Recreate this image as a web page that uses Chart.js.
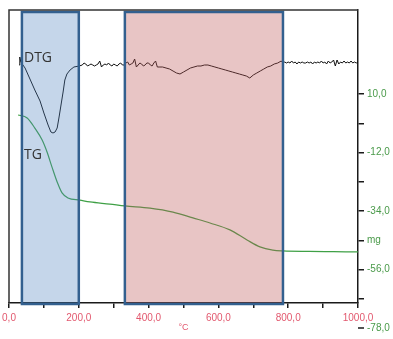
<!DOCTYPE html>
<html>
<head>
<meta charset="utf-8">
<script src="https://cdn.jsdelivr.net/npm/chart.js@4/dist/chart.umd.min.js"></script>
<style>
  html, body { margin: 0; padding: 0; background: #fff; }
  #wrap { width: 393px; height: 339px; position: relative; }
</style>
</head>
<body>
<div id="wrap"><canvas id="c" width="393" height="339"></canvas></div>
<script>
// ---- data ----
// TG: temperature (°C) and mass change (mg)
const tgTemp = [26, 52, 74, 95, 109, 123, 138, 152, 169, 203, 232, 289, 332, 404, 470, 527, 576, 633, 682, 719, 756, 785, 860, 930, 1000];
const tgMass = [2.1, 1.0, -2.8, -7.3, -11.8, -17.4, -23.1, -27.2, -29.1, -29.9, -30.6, -31.4, -32.1, -32.9, -34.4, -36.6, -38.5, -41.1, -44.9, -47.5, -48.7, -49.0, -49.2, -49.3, -49.4];

// DTG: temperature (°C) and derivative signal (arbitrary units)
const dtgTemp = [29, 31, 34, 40, 46, 60, 74, 89, 100, 112, 120, 126, 132, 138, 143, 149, 155, 160, 166, 175, 186, 201,
  210, 215, 220, 225, 230, 235, 240, 245, 250, 255, 260, 265, 270, 275, 280, 285, 290, 295, 300, 305, 310, 315, 320, 325, 330,
  335, 340, 345, 350, 355, 360, 365, 370, 375, 380, 385, 390, 395, 400,
  405, 410, 415, 420, 425, 430, 440, 450, 460, 470, 480, 490, 500, 510, 520, 530, 540, 550, 560, 570, 580, 590, 600,
  610, 620, 630, 640, 650, 660, 670, 680, 690, 700, 710, 720, 730, 740, 750, 760, 770, 780, 785, 790, 795, 800,
  805, 810, 815, 820, 825, 830, 835, 840, 845, 850, 855, 860, 865, 870, 875, 880, 885, 890, 895, 900,
  905, 910, 915, 920, 925, 930, 935, 940, 945, 950, 955, 960, 965, 970, 975, 980, 985, 990, 995, 1000];
const dtgValue = [-0.1, 0.7, 0.2, -0.1, -0.4, -1.5, -2.6, -3.7, -4.9, -6.1, -6.8, -6.9, -6.8, -6.4, -5.4, -4.1, -2.8, -1.6, -1.0, -0.6, -0.3, -0.2,
  -0.1, 0.1, 0.0, -0.2, -0.1, 0.0, -0.1, -0.2, -0.1, 0.0, 0.3, -0.3, -0.1, 0.0, -0.1, 0.1, -0.1, -0.2, 0.0, -0.1, -0.2, 0.0, 0.1, -0.1, -0.1,
  0.1, 0.2, -0.1, 0.0, 0.1, 0.5, -0.3, -0.1, 0.1, 0.0, -0.2, -0.1, 0.1, 0.1,
  -0.1, -0.2, 0.1, 0.3, -0.3, -0.3, -0.3, -0.4, -0.5, -0.7, -0.9, -1.0, -0.8, -0.6, -0.4, -0.3, -0.2, -0.2, -0.1, -0.1, -0.2, -0.3, -0.4,
  -0.5, -0.6, -0.7, -0.8, -0.9, -1.0, -1.1, -1.2, -1.4, -1.1, -0.9, -0.7, -0.5, -0.3, -0.2, 0.0, 0.1, 0.3, 0.1, 0.2, 0.1, 0.2,
  0.1, 0.3, 0.1, 0.2, 0.0, 0.2, 0.1, 0.2, 0.1, 0.1, 0.2, 0.1, 0.2, 0.0, 0.2, 0.1, 0.2, 0.1, 0.3, 0.1,
  0.2, 0.0, 0.3, 0.1, 0.2, 0.4, -0.2, 0.4, 0.0, 0.2, 0.1, 0.3, 0.1, 0.2, 0.1, 0.3, 0.1, 0.2, 0.1, 0.2];

// highlighted temperature ranges (°C)
const regionStart = [37, 332];
const regionEnd = [200, 785];

// axis ticks
const xTicks = [0, 100, 200, 300, 400, 500, 600, 700, 800, 900, 1000];
const xLabelled = [0, 200, 400, 600, 800, 1000];
const massTicks = [10, -1, -12, -23, -34, -45, -56, -67];
const massLabelled = [10, -12, -34, -56];
const massUnitTick = -45;
const massExtraTick = -78;

const fmt = v => v.toFixed(1).replace('.', ',');
const xy = (xs, ys) => xs.map((x, i) => ({ x, y: ys[i] }));

const RED = '#e2586e';
const GREEN = '#4a9a4a';
const AXIS = '#1a1a1a';

const overlayPlugin = {
  id: 'overlay',
  afterDatasetsDraw(chart) {
    const ctx = chart.ctx, xs = chart.scales.x, a = chart.chartArea;
    const fills = ['rgba(80,130,190,0.33)', 'rgba(190,90,90,0.35)'];
    ctx.save();
    regionStart.forEach((s, i) => {
      const x0 = xs.getPixelForValue(s), x1 = xs.getPixelForValue(regionEnd[i]);
      const y0 = a.top + 2, y1 = a.bottom + 1;
      ctx.fillStyle = fills[i];
      ctx.fillRect(x0, y0, x1 - x0, y1 - y0);
      ctx.strokeStyle = '#33608f';
      ctx.lineWidth = 2.5;
      ctx.strokeRect(x0, y0, x1 - x0, y1 - y0);
    });
    ctx.restore();
  },
  afterDraw(chart) {
    const ctx = chart.ctx, a = chart.chartArea, ys = chart.scales.yTG;
    ctx.save();
    // frame top & left
    ctx.strokeStyle = '#333';
    ctx.lineWidth = 1.5;
    ctx.beginPath();
    ctx.moveTo(a.left, a.bottom);
    ctx.lineTo(a.left, a.top);
    ctx.lineTo(a.right, a.top);
    ctx.stroke();
    // extra tick below the plot
    const y = ys.getPixelForValue(massExtraTick);
    ctx.strokeStyle = AXIS;
    ctx.lineWidth = 1.5;
    ctx.beginPath();
    ctx.moveTo(ys.left, y);
    ctx.lineTo(ys.left + 6, y);
    ctx.stroke();
    ctx.fillStyle = GREEN;
    ctx.font = '10px "Liberation Sans", Arial, sans-serif';
    ctx.textBaseline = 'middle';
    ctx.fillText(fmt(massExtraTick), ys.left + 9, y);
    // series labels
    ctx.fillStyle = '#333';
    ctx.font = '14px "Open Sans", "Liberation Sans", sans-serif';
    ctx.fillText('DTG', 24, 58);
    ctx.fillText('TG', 24, 155);
    ctx.restore();
  }
};

new Chart(document.getElementById('c'), {
  type: 'line',
  data: {
    datasets: [
      {
        label: 'TG', data: xy(tgTemp, tgMass), yAxisID: 'yTG',
        borderColor: '#3fa046', borderWidth: 1.2, pointRadius: 0,
        cubicInterpolationMode: 'monotone'
      },
      {
        label: 'DTG', data: xy(dtgTemp, dtgValue), yAxisID: 'yDTG',
        borderColor: '#111', borderWidth: 1, pointRadius: 0, tension: 0
      }
    ]
  },
  options: {
    responsive: false,
    animation: false,
    events: [],
    layout: { padding: { left: 9, top: 10, right: 0, bottom: 0 } },
    plugins: { legend: { display: false }, tooltip: { enabled: false } },
    scales: {
      x: {
        type: 'linear', position: 'bottom', min: 0, max: 1000,
        afterBuildTicks: s => { s.ticks = xTicks.map(v => ({ value: v })); },
        afterFit: s => { s.height = 36; s.paddingLeft = 0; s.paddingRight = 0; },
        grid: { drawOnChartArea: false, drawTicks: true, tickLength: 5, color: AXIS, lineWidth: 1.5 },
        border: { color: AXIS, width: 1.5 },
        ticks: {
          autoSkip: false, maxRotation: 0, padding: 4, color: RED,
          font: { size: 10, family: '"Liberation Sans", Arial, sans-serif' },
          callback: v => xLabelled.includes(v) ? fmt(v) : ''
        },
        title: { display: true, text: '°C', color: RED, padding: { top: 0, bottom: 6 },
          font: { size: 9, family: '"Liberation Sans", Arial, sans-serif' } }
      },
      yTG: {
        type: 'linear', position: 'right', min: -68.6, max: 41.6,
        afterBuildTicks: s => { s.ticks = massTicks.map(v => ({ value: v })); },
        afterFit: s => { s.width = 35; },
        grid: { drawOnChartArea: false, drawTicks: true, tickLength: 6, color: AXIS, lineWidth: 1.5 },
        border: { color: AXIS, width: 1.5 },
        ticks: {
          autoSkip: false, padding: 3, color: GREEN,
          font: { size: 10, family: '"Liberation Sans", Arial, sans-serif' },
          callback: v => v === massUnitTick ? 'mg' : (massLabelled.includes(v) ? fmt(v) : '')
        }
      },
      yDTG: {
        type: 'linear', display: false, position: 'left', min: -23.9, max: 5.4
      }
    }
  },
  plugins: [overlayPlugin]
});
</script>
</body>
</html>
